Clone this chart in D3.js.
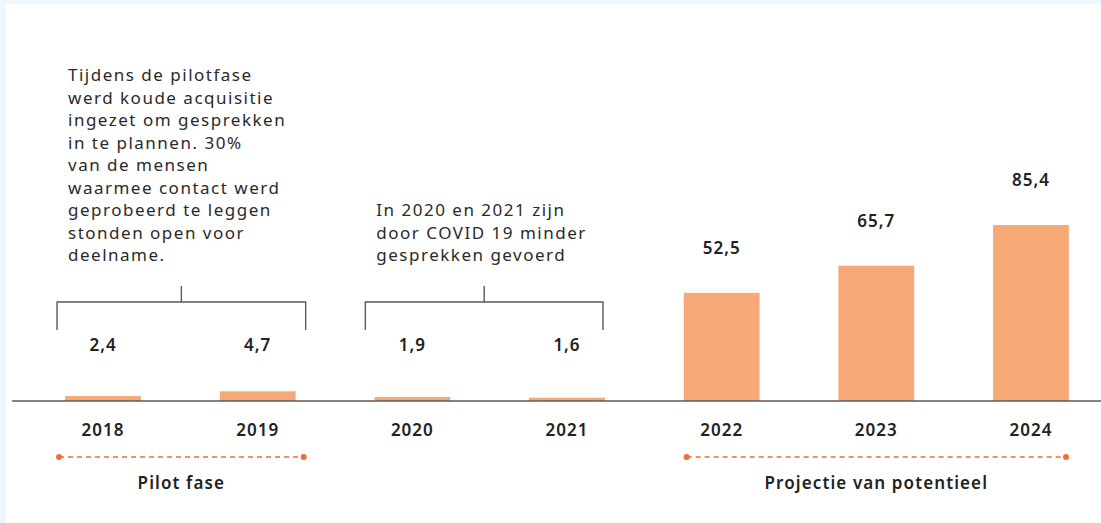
<!DOCTYPE html>
<html>
<head>
<meta charset="utf-8">
<script src="https://cdn.jsdelivr.net/npm/d3@7"></script>
<style>
  html, body { margin: 0; padding: 0; background: #eef7fe; }
  svg { display: block; font-family: "Noto Sans", "Open Sans", sans-serif; }
</style>
</head>
<body>
<div class="vis-holder"></div>
<script>
// data
var years = ["2018", "2019", "2020", "2021", "2022", "2023", "2024"];
var values = [2.4, 4.7, 1.9, 1.6, 52.5, 65.7, 85.4];
var valueLabels = ["2,4", "4,7", "1,9", "1,6", "52,5", "65,7", "85,4"];

// brackets with their notes
var noteYears = [["2018", "2019"], ["2020", "2021"]];
var noteLines = [
  ["Tijdens de pilotfase", "werd koude acquisitie", "ingezet om gesprekken",
   "in te plannen. 30%", "van de mensen", "waarmee contact werd",
   "geprobeerd te leggen", "stonden open voor", "deelname."],
  ["In 2020 en 2021 zijn", "door COVID 19 minder", "gesprekken gevoerd"]
];

// phases under the axis
var phaseNames = ["Pilot fase", "Projectie van potentieel"];
var phaseYears = [["2018", "2019"], ["2022", "2024"]];

var width = 1101;
var height = 523;
var baseline = 401;

var svg = d3.select(".vis-holder")
            .append("svg")
            .attr("width", width)
            .attr("height", height);

// white panel
svg.append("rect")
   .attr("x", 6).attr("y", 4)
   .attr("width", width - 6).attr("height", height - 4)
   .attr("fill", "#ffffff");

// x scale: one band per year
var xScale = d3.scaleBand()
               .domain(years)
               .range([25.7, 1108.3])
               .paddingInner(0.51)
               .paddingOuter(0.255);

// y scale
var yScale = d3.scaleLinear()
               .domain([0, 100])
               .range([baseline, baseline - 206]);

var mid = function(y) { return xScale(y) + xScale.bandwidth() / 2; };

// bars
svg.append("g")
   .selectAll("rect")
   .data(values)
   .enter()
   .append("rect")
   .attr("x", function(d, i) { return xScale(years[i]); })
   .attr("y", function(d) { return yScale(d); })
   .attr("width", xScale.bandwidth())
   .attr("height", function(d) { return baseline - yScale(d); })
   .attr("fill", "#f6a877");

// baseline
svg.append("line")
   .attr("x1", 12).attr("x2", width)
   .attr("y1", baseline).attr("y2", baseline)
   .attr("stroke", "#5a5a5a")
   .attr("stroke-width", 1.6);

// value labels
svg.append("g")
   .selectAll("text")
   .data(values)
   .enter()
   .append("text")
   .attr("x", function(d, i) { return mid(years[i]); })
   .attr("y", function(d) { return Math.min(yScale(d), yScale(5.4)) - 39; })
   .attr("text-anchor", "middle")
   .attr("font-size", 17)
   .attr("font-weight", 600)
   .attr("letter-spacing", 1)
   .attr("fill", "#222")
   .text(function(d, i) { return valueLabels[i]; });

// year labels
svg.append("g")
   .selectAll("text")
   .data(years)
   .enter()
   .append("text")
   .attr("x", function(d) { return mid(d); })
   .attr("y", 436)
   .attr("text-anchor", "middle")
   .attr("font-size", 17)
   .attr("font-weight", 600)
   .attr("letter-spacing", 1)
   .attr("fill", "#222")
   .text(function(d) { return d; });

// brackets and notes
var bracketPads = [[-46, 48], [-47, 36]];
noteYears.forEach(function(pair, k) {
  var x1 = mid(pair[0]) + bracketPads[k][0];
  var x2 = mid(pair[1]) + bracketPads[k][1];
  var g = svg.append("g");
  g.append("path")
   .attr("d", "M" + x1 + ",330V302H" + x2 + "V330M" + ((x1 + x2) / 2) + ",302V286")
   .attr("fill", "none")
   .attr("stroke", "#5a5a5a")
   .attr("stroke-width", 1.4);
  var lines = noteLines[k];
  g.selectAll("text")
   .data(lines)
   .enter()
   .append("text")
   .attr("x", x1 + 11)
   .attr("y", function(d, i) { return 261 - (lines.length - 1 - i) * 22.5; })
   .attr("font-size", 17)
   .attr("letter-spacing", 1.5)
   .attr("fill", "#2a2a2a")
   .text(function(d) { return d; });
});

// phases
var pads = [[-44, 46], [-35, 35]];
phaseYears.forEach(function(pair, k) {
  var x1 = mid(pair[0]) + pads[k][0];
  var x2 = mid(pair[1]) + pads[k][1];
  var g = svg.append("g");
  g.append("line")
   .attr("x1", x1).attr("x2", x2)
   .attr("y1", 457).attr("y2", 457)
   .attr("stroke", "#f26b3a")
   .attr("stroke-width", 1.5)
   .attr("stroke-dasharray", "5,4");
  g.selectAll("circle")
   .data([x1, x2])
   .enter()
   .append("circle")
   .attr("cx", function(d) { return d; })
   .attr("cy", 457)
   .attr("r", 3)
   .attr("fill", "#f26b3a");
  g.append("text")
   .attr("x", (x1 + x2) / 2)
   .attr("y", 489)
   .attr("text-anchor", "middle")
   .attr("font-size", 17)
   .attr("font-weight", 600)
   .attr("letter-spacing", 1.1)
   .attr("fill", "#222")
   .text(phaseNames[k]);
});
</script>
</body>
</html>
